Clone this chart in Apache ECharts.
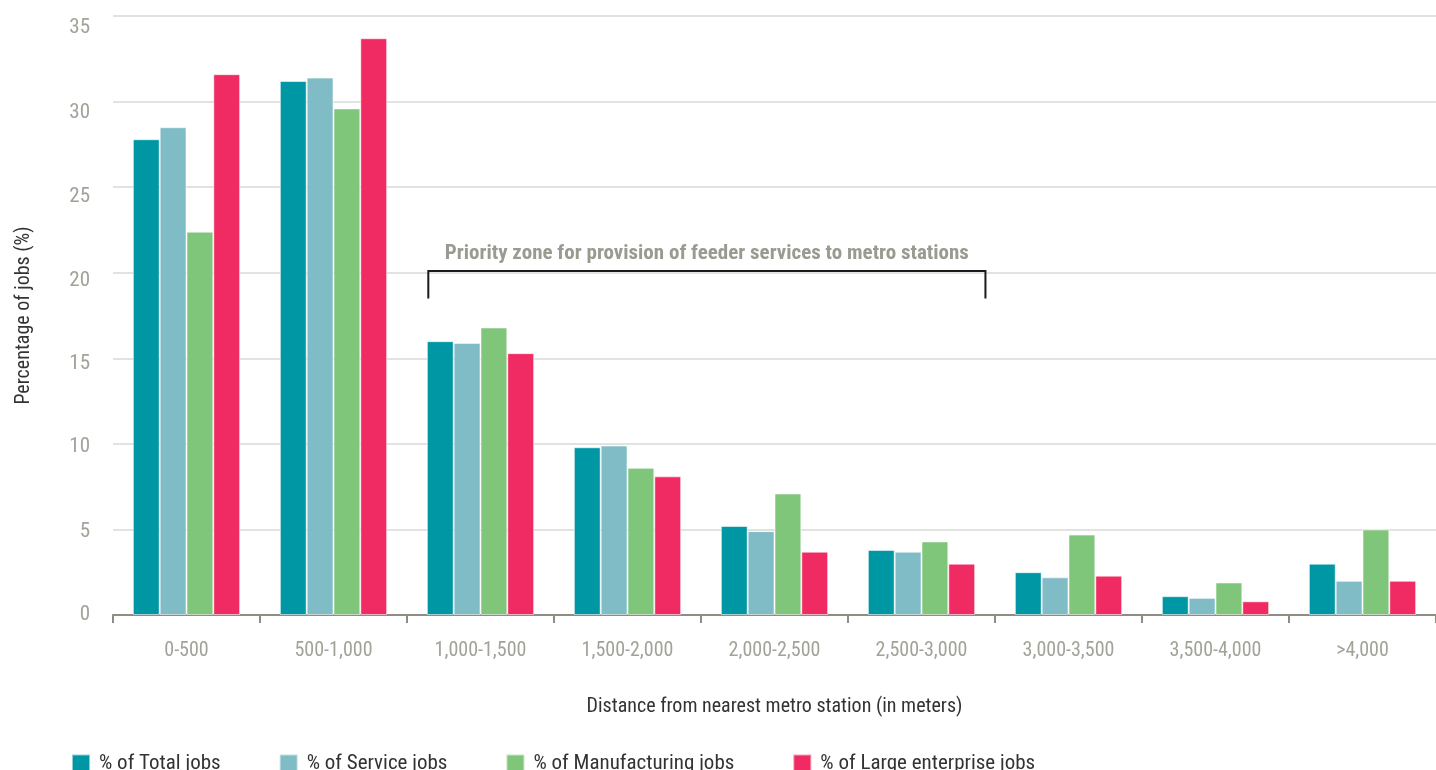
<!DOCTYPE html>
<html>
<head>
<meta charset="utf-8">
<script src="https://cdn.jsdelivr.net/npm/echarts@6/dist/echarts.min.js"></script>
<style>
html,body{margin:0;padding:0;background:#fff;}
#chart{width:1436px;height:770px;}
</style>
</head>
<body>
<div id="chart"></div>
<script>
const categories = ['0-500','500-1,000','1,000-1,500','1,500-2,000','2,000-2,500','2,500-3,000','3,000-3,500','3,500-4,000','>4,000'];
const totalJobs = [27.8, 31.2, 16.0, 9.8, 5.2, 3.8, 2.5, 1.1, 3.0];
const serviceJobs = [28.5, 31.4, 15.9, 9.9, 4.9, 3.7, 2.2, 1.0, 2.0];
const manufacturingJobs = [22.4, 29.6, 16.8, 8.6, 7.1, 4.3, 4.7, 1.9, 5.0];
const largeEnterpriseJobs = [31.6, 33.7, 15.3, 8.1, 3.7, 3.0, 2.3, 0.8, 2.0];
const seriesNames = ['% of Total jobs','% of Service jobs','% of Manufacturing jobs','% of Large enterprise jobs'];
const yTicks = [0, 5, 10, 15, 20, 25, 30, 35];
// bracket annotation: from category index 2 to 5, at value 20.1 with legs to 18.5
const priorityZone = { from: 2, to: 5, top: 20.1, bottom: 18.5, label: 'Priority zone for provision of feeder services to metro stations' };

const FONT = "'Liberation Sans Narrow','Roboto Condensed','DejaVu Sans Condensed','Roboto',sans-serif";
const colors = ['#0097a5', '#7fbcc5', '#80c67a', '#f02a62'];
// label drop (px) below its gridline, as in the reference typography
const labelDrop = {0: 0, 5: 2, 10: 3, 15: 5, 20: 8, 25: 10, 30: 11, 35: 12};
const rich = {};
Object.keys(labelDrop).forEach(k => {
  rich['t' + k] = { fontFamily: FONT, fontSize: 21, color: '#a3a299', padding: [labelDrop[k] * 2, 0, 0, 0] };
});

const chart = echarts.init(document.getElementById('chart'), null, {renderer: 'canvas'});

const barSeries = [totalJobs, serviceJobs, manufacturingJobs, largeEnterpriseJobs].map((d, i) => ({
  name: seriesNames[i],
  type: 'bar',
  data: d,
  barGap: '0%',
  barCategoryGap: '27%',
  itemStyle: { color: colors[i], borderColor: 'rgba(255,255,255,0.55)', borderWidth: 1 },
  emphasis: { disabled: true }
}));

const bracketSeries = {
  type: 'custom',
  name: 'bracket',
  silent: true,
  clip: false,
  z: 10,
  data: [[priorityZone.from, priorityZone.to, priorityZone.top, priorityZone.bottom]],
  encode: { x: [0, 1], y: [2, 3] },
  renderItem: function (params, api) {
    const bw = api.size([1, 0])[0];
    const a = api.coord([api.value(0), api.value(2)]);
    const b = api.coord([api.value(1), api.value(2)]);
    const yb = api.coord([api.value(0), api.value(3)])[1];
    const x1 = a[0] - bw * 0.355;
    const x2 = b[0] + bw * 0.435;
    const y = a[1];
    return {
      type: 'group',
      children: [
        { type: 'polyline', shape: { points: [[x1, yb], [x1, y], [x2, y], [x2, yb]] },
          style: { stroke: '#1a1a1a', lineWidth: 2, fill: null } },
        { type: 'text', style: { text: priorityZone.label, x: (x1 + x2) / 2, y: y - 17,
          align: 'center', verticalAlign: 'middle', fill: '#9b9a90',
          font: "bold 21px " + FONT } }
      ]
    };
  }
};

chart.setOption({
  animation: false,
  color: colors,
  grid: { left: 113, right: 0, top: 16, bottom: 155, containLabel: false, outerBoundsMode: 'none' },
  legend: {
    data: seriesNames,
    left: 66,
    top: 748,
    itemWidth: 18,
    itemHeight: 18,
    itemGap: 58,
    icon: 'rect',
    textStyle: { fontFamily: FONT, fontSize: 21, color: '#333', padding: [0, 0, 0, 4] }
  },
  xAxis: {
    type: 'category',
    data: categories,
    name: 'Distance from nearest metro station (in meters)',
    nameLocation: 'middle',
    nameGap: 82,
    nameTextStyle: { fontFamily: FONT, fontSize: 20, color: '#333' },
    axisLine: { lineStyle: { color: '#8e8d84', width: 2 } },
    axisTick: { show: true, length: 8, lineStyle: { color: '#8e8d84', width: 2 } },
    axisLabel: { fontFamily: FONT, fontSize: 20, color: '#a3a299', margin: 26 },
    splitLine: { show: false }
  },
  yAxis: {
    type: 'value',
    min: 0,
    max: 35,
    interval: 5,
    name: 'Percentage of jobs (%)',
    nameLocation: 'middle',
    nameGap: 79,
    nameTextStyle: { fontFamily: FONT, fontSize: 20, color: '#333' },
    axisLine: { show: false },
    axisTick: { show: false },
    axisLabel: { fontFamily: FONT, fontSize: 21, color: '#a3a299', margin: 23, rich: rich,
      formatter: v => yTicks.includes(v) ? '{t' + v + '|' + v + '}' : '' },
    splitLine: { lineStyle: { color: '#d9d9d6', width: 1.5 } }
  },
  series: barSeries.concat([bracketSeries])
});
</script>
</body>
</html>
